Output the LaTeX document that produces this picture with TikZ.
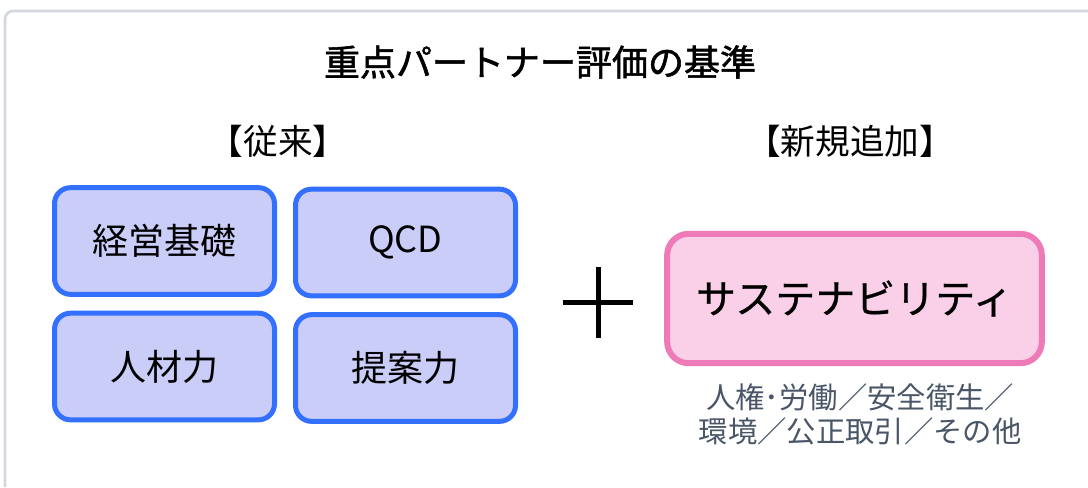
\documentclass[tikz,border=0pt]{standalone}
\usepackage{fontspec}
\setmainfont{Noto Sans CJK JP}
\newfontfamily\jpbold{Noto Sans CJK JP}[FakeBold=1.5]
\newfontfamily\jpmed{Noto Sans CJK JP}[FakeBold=0.6]
\definecolor{boxblue}{HTML}{3370FF}
\definecolor{fillblue}{HTML}{C9CDF8}
\definecolor{boxpink}{HTML}{EE7AB8}
\definecolor{fillpink}{HTML}{F9D0E7}
\definecolor{subgray}{HTML}{4A5568}
\definecolor{framegray}{HTML}{D3D7E0}
\tikzset{
  oldbox/.style={draw=boxblue, fill=fillblue, line width=3.75pt, rounded corners=12pt,
    minimum width=165pt, minimum height=80pt, inner sep=0pt, font=\fontsize{27}{30}\selectfont},
  newbox/.style={draw=boxpink, fill=fillpink, line width=4.5pt, rounded corners=16pt,
    minimum width=281pt, minimum height=97pt, inner sep=0pt, font=\jpmed\fontsize{30}{33}\selectfont},
  head/.style={font=\fontsize{26}{29}\selectfont, inner sep=0pt},
  subtext/.style={text=subgray, font=\fontsize{22}{25}\selectfont, inner sep=0pt}
}

\begin{document}
\begin{tikzpicture}[x=0.75pt,y=-0.75pt]
\useasboundingbox[fill=white] (0,0) rectangle (1088,487);
% frame
\draw[framegray, line width=2pt, rounded corners=6pt] (5,487) -- (5,11) -- (1088,11);
\node[inner sep=0pt, font=\jpbold\fontsize{27}{30}\selectfont] (title) at (540,62) {重点パートナー評価の基準};
\node[head] (old) at (278,141) {【従来】};
\node[head] (new) at (850,141) {【新規追加】};
% old criteria
\node[oldbox] (kiso) at (164.5,241) {経営基礎};
\node[oldbox] (qcd) at (405.5,242.5) {QCD};
\node[oldbox] (jinzai) at (164.5,366.5) {人材力};
\node[oldbox] (teian) at (405.5,368) {提案力};
% plus
\draw[line width=3.75pt] (563,302) -- (633,302);
\draw[line width=3.75pt] (598,267) -- (598,338);
% new criterion
\node[newbox] (sus) at (854.5,298.5) {サステナビリティ};
\node[subtext] (sub1) at (860,397) {人権･労働／安全衛生／};
\node[subtext] (sub2) at (860,431) {環境／公正取引／その他};
\end{tikzpicture}
\end{document}
